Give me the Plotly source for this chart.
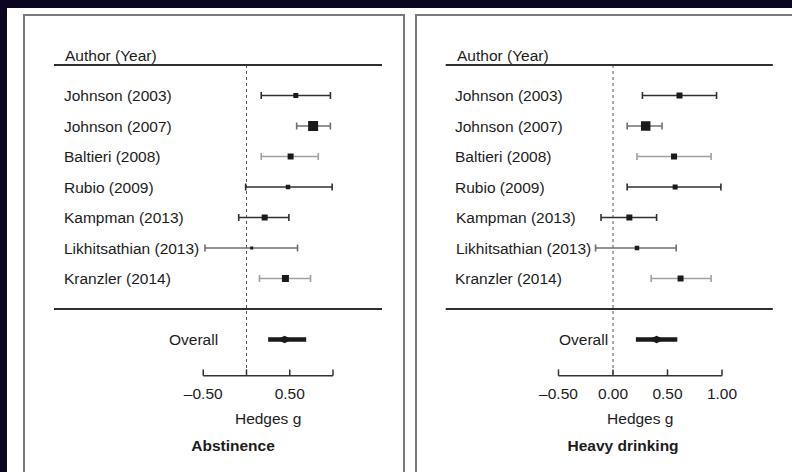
import plotly.graph_objects as go

# Study labels (top to bottom)
studies = ["Johnson (2003)", "Johnson (2007)", "Baltieri (2008)", "Rubio (2009)",
           "Kampman (2013)", "Likhitsathian (2013)", "Kranzler (2014)"]

# Abstinence: Hedges g with 95% CI
abst_est = [0.57, 0.77, 0.51, 0.48, 0.21, 0.06, 0.45]
abst_low = [0.17, 0.58, 0.17, -0.01, -0.09, -0.48, 0.15]
abst_high = [0.97, 0.97, 0.83, 0.99, 0.49, 0.59, 0.74]
abst_overall = (0.44, 0.25, 0.69)  # estimate, low, high

# Heavy drinking: Hedges g with 95% CI
heavy_est = [0.61, 0.30, 0.56, 0.57, 0.15, 0.22, 0.62]
heavy_low = [0.27, 0.13, 0.22, 0.13, -0.11, -0.16, 0.35]
heavy_high = [0.95, 0.45, 0.90, 0.99, 0.40, 0.58, 0.90]
heavy_overall = (0.40, 0.21, 0.59)

# Axis ticks per panel
abst_ticks = [-0.5, 0.0, 0.5, 1.0]
abst_ticklabels = ["\u20130.50", "", "0.50", ""]
heavy_ticks = [-0.5, 0.0, 0.5, 1.0]
heavy_ticklabels = ["\u20130.50", "0.00", "0.50", "1.00"]

panel_titles = ["Abstinence", "Heavy drinking"]
axis_title = "Hedges g"

# --- styling ---
W, H = 792, 472
NAVY = "#0b0522"
TXT = "#1c1c1c"
FONT = "Liberation Sans, Arial, sans-serif"
FS = 15.5
ci_colors = ["#303030", "#707070", "#a0a0a0", "#303030", "#303030", "#707070", "#a0a0a0"]
abst_sizes = [5, 10, 6, 4.5, 6, 3, 7]
heavy_sizes = [6, 9.5, 6, 5, 6, 4.5, 6]

ROW0_PX, ROW_PX = 95.5, 30.5
y_top = -ROW0_PX / ROW_PX
y_bot = (H - ROW0_PX) / ROW_PX
OVERALL_ROW = len(studies) + 1
AXIS_ROW = 9.19
TICK_TOP = 8.98

fig = go.Figure()

panels = [
    dict(x="x", est=abst_est, low=abst_low, high=abst_high, ov=abst_overall,
         ticks=abst_ticks, ticklabels=abst_ticklabels, sizes=abst_sizes,
         title=panel_titles[0], title_x=-0.156),
    dict(x="x2", est=heavy_est, low=heavy_low, high=heavy_high, ov=heavy_overall,
         ticks=heavy_ticks, ticklabels=heavy_ticklabels, sizes=heavy_sizes,
         title=panel_titles[1], title_x=0.092),
]

for p in panels:
    xa = p["x"]
    # reference line at zero
    fig.add_trace(go.Scatter(x=[0, 0], y=[-1, AXIS_ROW], mode="lines", xaxis=xa, yaxis="y",
                             line=dict(color="#555555", width=1, dash="dot"),
                             showlegend=False, hoverinfo="skip"))
    # study estimates with confidence intervals
    for i, name in enumerate(studies):
        e, lo, hi = p["est"][i], p["low"][i], p["high"][i]
        fig.add_trace(go.Scatter(
            x=[e], y=[i], mode="markers", xaxis=xa, yaxis="y", name=name,
            marker=dict(symbol="square", size=p["sizes"][i], color="#1a1a1a", line=dict(width=0)),
            error_x=dict(type="data", symmetric=False, array=[hi - e], arrayminus=[e - lo],
                         color=ci_colors[i], thickness=1.6, width=3.5),
            showlegend=False))
    # pooled estimate
    e, lo, hi = p["ov"]
    fig.add_trace(go.Scatter(x=[lo, hi], y=[OVERALL_ROW, OVERALL_ROW], mode="lines",
                             xaxis=xa, yaxis="y", line=dict(color="#1a1a1a", width=4.5),
                             showlegend=False, hoverinfo="skip"))
    fig.add_trace(go.Scatter(x=[e], y=[OVERALL_ROW], mode="markers", xaxis=xa, yaxis="y",
                             marker=dict(symbol="diamond-wide", size=11, color="#1a1a1a",
                                         line=dict(width=0)),
                             showlegend=False))
    # bottom axis line and upward ticks
    t = p["ticks"]
    fig.add_trace(go.Scatter(x=[t[0], t[-1]], y=[AXIS_ROW, AXIS_ROW], mode="lines",
                             xaxis=xa, yaxis="y", line=dict(color="#333333", width=1.5),
                             showlegend=False, hoverinfo="skip"))
    for tv in t:
        fig.add_trace(go.Scatter(x=[tv, tv], y=[AXIS_ROW, TICK_TOP], mode="lines",
                                 xaxis=xa, yaxis="y", line=dict(color="#333333", width=1.5),
                                 showlegend=False, hoverinfo="skip"))
    fig.add_trace(go.Scatter(x=t, y=[9.84] * len(t), mode="text", text=p["ticklabels"],
                             xaxis=xa, yaxis="y", textfont=dict(family=FONT, size=FS, color=TXT),
                             showlegend=False, hoverinfo="skip"))
    mid = (t[0] + t[-1]) / 2
    fig.add_trace(go.Scatter(x=[mid], y=[10.64], mode="text", text=[axis_title],
                             xaxis=xa, yaxis="y", textfont=dict(family=FONT, size=FS, color=TXT),
                             showlegend=False, hoverinfo="skip"))
    fig.add_trace(go.Scatter(x=[p["title_x"]], y=[11.52], mode="text",
                             text=["<b>" + p["title"] + "</b>"],
                             xaxis=xa, yaxis="y", textfont=dict(family=FONT, size=FS, color=TXT),
                             showlegend=False, hoverinfo="skip"))

shapes = [
    # white page
    dict(type="rect", xref="paper", yref="paper", x0=7 / W, x1=1.02, y0=-0.02, y1=1 - 8 / H,
         fillcolor="white", line=dict(width=0), layer="below"),
    # panel frames
    dict(type="rect", xref="paper", yref="paper", x0=24 / W, x1=404 / W, y0=-0.05, y1=1 - 15 / H,
         fillcolor="rgba(0,0,0,0)", line=dict(color="#7a7a7a", width=2), layer="below"),
    dict(type="rect", xref="paper", yref="paper", x0=416 / W, x1=1.05, y0=-0.05, y1=1 - 15 / H,
         fillcolor="rgba(0,0,0,0)", line=dict(color="#7a7a7a", width=2), layer="below"),
]
# header and summary rules in each panel
for xa, (a, b) in [("x", (0.135, 0.955)), ("x2", (0.1166, 0.951))]:
    for yr in (-1, OVERALL_ROW - 1):
        shapes.append(dict(type="line", xref=xa + " domain", yref="y", x0=a, x1=b, y0=yr, y1=yr,
                           line=dict(color="#2e2e2e", width=2)))

annotations = []
for x_left, x_overall in [(62, 219.5), (453.5, 609.5)]:
    annotations.append(dict(x=x_left / W + 1 / W, y=-1.31, xref="paper", yref="y",
                            text="Author (Year)", showarrow=False, xanchor="left",
                            font=dict(family=FONT, size=FS, color=TXT)))
    for i, name in enumerate(studies):
        annotations.append(dict(x=x_left / W, y=i, xref="paper", yref="y", text=name,
                                showarrow=False, xanchor="left",
                                font=dict(family=FONT, size=FS, color=TXT)))
    annotations.append(dict(x=x_overall / W, y=OVERALL_ROW, xref="paper", yref="y",
                            text="Overall", showarrow=False, xanchor="right",
                            font=dict(family=FONT, size=FS, color=TXT)))

# x scales: left panel 0 at 246.5px (86.5 px/unit), right panel 0 at 613px (109 px/unit)
fig.update_layout(
    width=W, height=H, margin=dict(l=0, r=0, t=0, b=0),
    paper_bgcolor=NAVY, plot_bgcolor="rgba(0,0,0,0)",
    xaxis=dict(domain=[0, 400 / W], range=[-246.5 / 86.5, (400 - 246.5) / 86.5],
               visible=False, fixedrange=True),
    xaxis2=dict(domain=[400 / W, 1], range=[(400 - 613) / 109, (W - 613) / 109],
                visible=False, fixedrange=True, anchor="y"),
    yaxis=dict(domain=[0, 1], range=[y_bot, y_top], visible=False, fixedrange=True),
    shapes=shapes, annotations=annotations, showlegend=False,
)

fig.write_html("out.html")
